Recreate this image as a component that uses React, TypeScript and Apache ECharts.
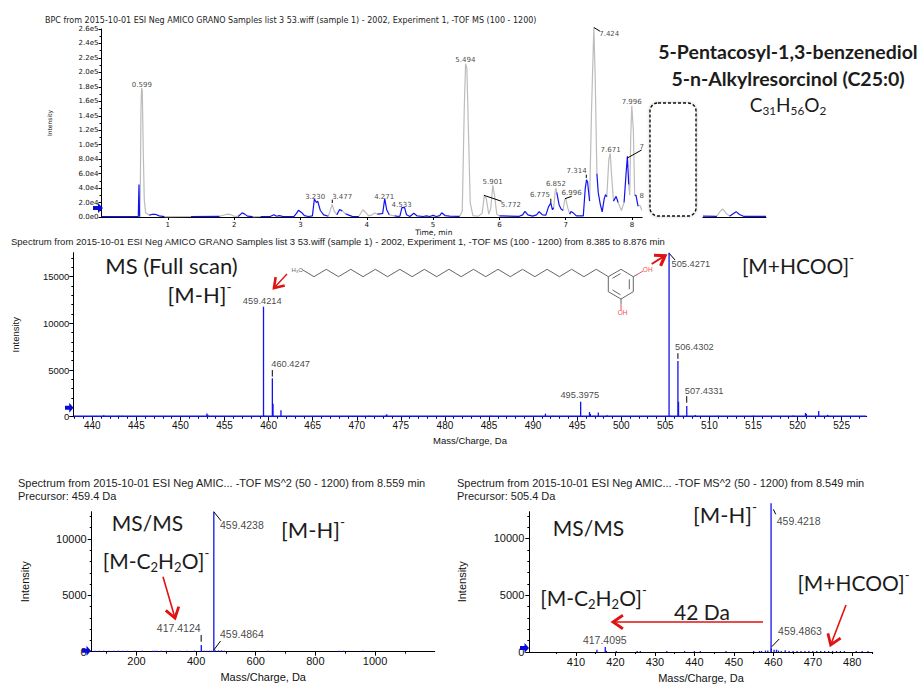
import React, { useEffect, useRef } from "react";
import * as echarts from "echarts";

// ---------- Chromatogram (BPC) ----------
const chromXTicks = [1, 2, 3, 4, 5, 6, 7, 8];
const chromYTicks = [0, 2e4, 4e4, 6e4, 8e4, 1e5, 1.2e5, 1.4e5, 1.6e5, 1.8e5, 2e5, 2.2e5, 2.4e5, 2.6e5];
const chromYMinor = [1e4, 3e4, 5e4, 7e4, 9e4, 1.1e5, 1.3e5, 1.5e5, 1.7e5, 1.9e5, 2.1e5, 2.3e5, 2.5e5];
const chromGrey: any[] = [
  [0.575, 500], [0.585, 30000], [0.595, 150000], [0.605, 178000], [0.615, 175000], [0.63, 90000], [0.645, 24000], [0.665, 6000], [0.72, 2500], [null, null],
  [0.95, 600], [1.35, 700], [null, null],
  [1.78, 800], [1.85, 2800], [1.9, 4000], [1.95, 3200], [2.0, 1200], [2.06, 800], [null, null],
  [2.28, 600], [2.4, 700], [null, null],
  [3.42, 1000], [3.46, 12000], [3.477, 17500], [3.51, 8000], [3.55, 3000], [null, null],
  [3.63, 8500], [3.68, 4500], [null, null],
  [3.88, 700], [3.94, 10000], [3.98, 6500], [4.03, 1500], [4.08, 3000], [4.12, 5500], [4.16, 4000], [null, null],
  [4.34, 3000], [4.42, 1500], [null, null],
  [5.4, 1000], [5.44, 8000], [5.47, 150000], [5.49, 212000], [5.51, 205000], [5.53, 130000], [5.56, 20000], [5.6, 2000], [5.68, 1000], [5.74, 5000], [5.772, 29500], [5.8, 26000], [5.84, 4000], [5.87, 12000], [5.9, 44000], [5.93, 28000], [5.96, 4000], [6.0, 1500], [null, null],
  [6.82, 13000], [6.84, 35000], [6.852, 40000], [6.865, 34000], [null, null],
  [6.96, 9000], [6.985, 24000], [7.0, 25400], [7.03, 13000], [7.06, 4000], [null, null],
  [7.36, 22000], [7.39, 150000], [7.424, 262000], [7.445, 190000], [7.47, 60000], [null, null],
  [7.62, 28000], [7.65, 80000], [7.671, 88000], [7.69, 60000], [7.72, 22000], [null, null],
  [7.79, 20000], [7.84, 9000], [7.88, 20000], [null, null],
  [7.95, 45000], [7.965, 30000], [7.98, 110000], [7.996, 154000], [8.02, 120000], [8.04, 30000], [null, null],
  [8.09, 15000], [8.12, 16000], [8.15, 9000], [null, null],
  [9.28, 1000], [9.33, 8000], [9.37, 11000], [9.42, 5000], [9.47, 1200],
];
const chromBlue: any[] = [
  [0, 700], [0.3, 600], [0.555, 800], [0.565, 45000], [0.575, 500], [null, null],
  [0.72, 2500], [0.76, 3500], [0.82, 3500], [0.87, 1500], [0.95, 600], [null, null],
  [1.35, 700], [1.78, 800], [null, null],
  [2.06, 800], [2.09, 3000], [2.12, 5800], [2.16, 4000], [2.2, 1200], [2.28, 600], [null, null],
  [2.4, 700], [2.55, 1000], [2.6, 3200], [2.64, 1000], [2.68, 1800], [2.73, 800], [2.9, 600], [2.94, 5000], [2.97, 9300], [3.02, 6000], [3.06, 1800], [3.12, 700], [3.18, 1500], [3.21, 24900], [3.24, 20000], [3.26, 22000], [3.3, 9000], [3.35, 3000], [3.42, 1000], [null, null],
  [3.55, 3000], [3.59, 10500], [3.63, 8500], [null, null],
  [3.68, 4500], [3.72, 3000], [3.78, 800], [3.88, 700], [null, null],
  [4.16, 4000], [4.2, 4200], [4.24, 5000], [4.271, 25500], [4.3, 10000], [4.34, 3000], [null, null],
  [4.42, 1500], [4.46, 1000], [4.5, 1200], [4.53, 13000], [4.57, 13000], [4.6, 3000], [4.65, 800], [4.71, 5200], [4.76, 1500], [4.85, 700], [4.9, 1500], [4.95, 700], [5.0, 2200], [5.05, 700], [5.1, 2000], [5.13, 5800], [5.18, 2000], [5.25, 1200], [5.4, 1000], [null, null],
  [6.0, 1500], [6.3, 1000], [6.35, 3000], [6.385, 7800], [6.43, 3000], [6.5, 1200], [6.56, 3000], [6.6, 7300], [6.65, 3000], [6.7, 2500], [6.74, 14000], [6.775, 19400], [6.8, 10000], [6.82, 13000], [null, null],
  [6.865, 34000], [6.9, 17000], [6.93, 11000], [6.96, 9000], [null, null],
  [7.06, 4000], [7.08, 7500], [7.11, 6000], [7.16, 1500], [7.265, 1500], [7.295, 40000], [7.314, 51600], [7.33, 48000], [7.36, 22000], [null, null],
  [7.47, 60000], [7.49, 34000], [7.52, 18000], [7.55, 7000], [7.58, 25000], [7.6, 31000], [7.62, 28000], [null, null],
  [7.72, 22000], [7.76, 28500], [7.79, 20000], [null, null],
  [7.88, 20000], [7.91, 60000], [7.93, 84000], [7.95, 45000], [null, null],
  [8.04, 30000], [8.06, 30000], [8.09, 15000], [null, null],
  [9.07, 1200], [9.28, 1000], [null, null],
  [9.47, 1200], [9.53, 5000], [9.57, 7400], [9.62, 3500], [9.68, 1000], [10.02, 1000],
];
const chromLabels: any[] = [
  [0.608, 182600, "0.599"], [3.222, 28100, "3.230"], [3.629, 28100, "3.477"], [4.262, 28100, "4.271"], [4.525, 17000, "4.533"],
  [5.487, 216700, "5.494"], [5.897, 48800, "5.901"], [6.173, 17000, "5.772"], [6.611, 30000, "6.775"], [6.852, 45200, "6.852"],
  [7.089, 33600, "6.996"], [7.164, 63200, "7.314"], [7.656, 253500, "7.424"], [7.677, 93100, "7.671"], [7.994, 159000, "7.996"],
  [8.145, 96800, "7"], [8.145, 29000, "8"],
];
const chromLeaders: any[] = [
  [3.48, 19400], [3.48, 24000], [null, null],
  [7.31, 54000], [7.31, 58500], [null, null],
  [6.775, 19400], [6.775, 25300], [null, null],
  [5.766, 30000], [6.033, 21700], [null, null],
  [6.988, 25300], [7.09, 28600], [null, null],
  [7.425, 262000], [7.516, 257000], [null, null],
  [7.93, 81600], [8.145, 92700],
];

// ---------- MS full scan ----------
const ms1XTicks = [440, 445, 450, 455, 460, 465, 470, 475, 480, 485, 490, 495, 500, 505, 510, 515, 520, 525];
const ms1XMinor = Array.from({ length: 90 }, (_, i) => 438 + i);
const ms1YTicks = [0, 5000, 10000, 15000];
const ms1YMinor = [1000, 2000, 3000, 4000, 6000, 7000, 8000, 9000, 11000, 12000, 13000, 14000, 16000, 17000];
const ms1Peaks: number[][] = [
  [441.3, 150], [443, 100], [443.4, 100], [447, 80], [449.4, 80], [453, 350], [453.1, 200], [459.4214, 11790], [459.6, 100],
  [460.4247, 4115], [460.5, 1400], [461.4, 700], [462.4, 100], [471.4, 100], [473.3, 120], [473.4, 250], [485.2, 100], [485.4, 80],
  [491.4, 320], [492.3, 100], [495.3975, 1607], [496.4, 500], [496.5, 300], [496.9, 100], [497.4, 450], [498.4, 150], [503.9, 80],
  [505.4271, 17570], [505.6, 100], [506.4302, 5960], [506.5, 1600], [507.4331, 1143], [508.4, 180], [511, 100], [515, 120], [519.5, 120],
  [520.9, 400], [521, 300], [522.4, 620], [523.4, 200], [523.5, 120],
];
const ms1Baseline = [[437.9, 60], [527.8, 60]];
const ms1Labels: any[] = [
  [459.28, 12390, "459.4214"], [462.5, 5640, "460.4247"], [507.9, 16320, "505.4271"],
  [508.3, 7500, "506.4302"], [509.4, 2750, "507.4331"], [495.3, 2290, "495.3975"],
];
const ms1Leaders: any[] = [
  [460.42, 4300], [460.42, 5000], [null, null],
  [505.45, 17500], [506.1, 16800], [null, null],
  [506.43, 6200], [506.43, 6800], [null, null],
  [507.43, 1500], [507.43, 2200],
];

// ---------- MS/MS of 459.4 ----------
const ms2aXTicks = [200, 400, 600, 800, 1000];
const ms2aXMinor = [100, 300, 500, 700, 900, 1100];
const msmsYTicks = [0, 5000, 10000];
const msmsYMinor = [1000, 2000, 3000, 4000, 6000, 7000, 8000, 9000, 11000, 12000];
const ms2aPeaks: number[][] = [
  [62, 90], [75, 90], [90, 90], [108, 90], [125, 90], [140, 90], [155, 90], [170, 90], [195, 90], [220, 90], [255, 90], [262, 90], [270, 90],
  [283, 90], [300, 90], [315, 90], [345, 90], [370, 90], [395, 90], [417.4124, 590], [420, 90], [428, 90], [436, 90], [445, 90], [452, 90],
  [459.4238, 12420], [459.4864, 110], [465, 120], [475, 120], [485, 120], [495, 90], [640, 90], [880, 90], [895, 90], [960, 90],
];
const ms2aLabels: any[] = [[553.5, 11260, "459.4238"], [341.8, 2130, "417.4124"], [553.5, 1600, "459.4864"]];
const ms2aLeaders: any[] = [
  [459.4, 12420], [484, 11600], [null, null],
  [417, 890], [417, 1480], [null, null],
  [459.5, 150], [482, 950],
];

// ---------- MS/MS of 505.4 ----------
const ms2bXTicks = [410, 420, 430, 440, 450, 460, 470, 480];
const ms2bXMinor = [405, 415, 425, 435, 445, 455, 465, 475, 485];
const ms2bPeaks: number[][] = [
  [415.3, 200], [417.4095, 450], [417.7, 100], [420.2, 80], [425.5, 80], [426.3, 80], [433, 80], [437.5, 80], [440, 80], [441.5, 80], [448, 80],
  [455, 90], [456.5, 90], [457, 90], [458, 120], [458.6, 140], [459.4218, 13110], [459.4863, 300], [460.2, 200], [460.8, 200], [461.3, 120], [462, 90],
  [463, 160], [464, 90], [465, 90], [466, 90], [467, 90], [468, 90], [469, 90], [470, 90], [471, 90], [472, 90], [473, 90], [474, 90], [475, 90],
  [476, 90], [477, 90], [478, 90], [481, 80], [482.5, 80], [484, 80],
];
const ms2bLabels: any[] = [[466.4, 11570, "459.4218"], [417.3, 1060, "417.4095"], [466.75, 1880, "459.4863"]];
const ms2bLeaders: any[] = [
  [460.0, 12570], [460.6, 12130], [null, null],
  [459.6, 470], [461.5, 1150],
];

const BLUE = "#1212f0";
const GREY = "#bcbcbc";
const RED = "#e01212";
const ANNOT = "Lato, 'Noto Sans', sans-serif";
const ARIAL = "'Liberation Sans', Arial, sans-serif";
const DEJAVU = "'DejaVu Sans', sans-serif";

function axisPair(kind: "x" | "y", gridIndex: number, min: number, max: number, majors: number[], minors: number[], o: any) {
  const base = {
    type: "value",
    gridIndex,
    position: kind === "x" ? "bottom" : "left",
    min,
    max,
    splitLine: { show: false },
  };
  return [
    {
      ...base,
      name: o.name,
      nameLocation: "middle",
      nameGap: o.nameGap,
      nameTextStyle: { fontFamily: o.font, fontSize: o.nameSize, color: "#111" },
      axisLine: { onZero: false, lineStyle: { color: "#000", width: 1 } },
      axisTick: { customValues: majors, length: o.major, lineStyle: { color: "#000" } },
      axisLabel: {
        customValues: majors,
        fontFamily: o.font,
        fontSize: o.size,
        color: "#111",
        margin: o.margin,
        formatter: o.formatter || ((v: number) => String(v)),
      },
    },
    {
      ...base,
      axisLine: { show: false, onZero: false },
      axisTick: { customValues: minors, length: o.minor, lineStyle: { color: "#000" } },
      axisLabel: { show: false },
    },
  ];
}

function labelSeries(p: number, data: any[], font: string, size: number) {
  return {
    type: "scatter",
    xAxisIndex: p * 2,
    yAxisIndex: p * 2,
    data,
    symbolSize: 1,
    itemStyle: { color: "transparent" },
    silent: true,
    z: 6,
    clip: false,
    label: {
      show: true,
      position: "inside",
      fontFamily: font,
      fontSize: size,
      color: "#111",
      textBorderWidth: 0,
      textBorderColor: "transparent",
      formatter: (v: any) => v.data[2],
    },
  };
}

function leaderSeries(p: number, data: any[]) {
  return {
    type: "line",
    xAxisIndex: p * 2,
    yAxisIndex: p * 2,
    data,
    symbol: "none",
    clip: false,
    silent: true,
    z: 5,
    lineStyle: { color: "#000", width: 1 },
  };
}

function barSeries(p: number, data: number[][]) {
  return {
    type: "bar",
    xAxisIndex: p * 2,
    yAxisIndex: p * 2,
    data,
    barWidth: 1.3,
    clip: false,
    silent: true,
    itemStyle: { color: BLUE },
  };
}

function traceSeries(data: any[], color: string, z: number) {
  return {
    type: "line",
    xAxisIndex: 0,
    yAxisIndex: 0,
    data,
    symbol: "none",
    clip: false,
    silent: true,
    z,
    lineStyle: { color, width: 1.2 },
  };
}

function txt(text: string, x: number, y: number, font: string, size: number, extra: any = {}) {
  return {
    type: "text",
    x,
    y,
    z: 60,
    silent: true,
    style: {
      text,
      fontFamily: font,
      fontSize: size,
      fill: extra.fill || "#1c1c1c",
      align: extra.align || "left",
      verticalAlign: "middle",
      fontWeight: extra.weight || "normal",
    },
  };
}

function chem(parts: [string, "b" | "s" | "u"][], x: number, y: number, size: number) {
  return {
    type: "text",
    x,
    y,
    z: 60,
    silent: true,
    style: {
      text: parts.map(([t, k]) => `{${k}|${t}}`).join(""),
      align: "center",
      verticalAlign: "middle",
      fill: "#1c1c1c",
      rich: {
        b: { fontFamily: ANNOT, fontSize: size, fill: "#1c1c1c", lineHeight: size * 1.3, verticalAlign: "middle" },
        s: { fontFamily: ANNOT, fontSize: size * 0.62, fill: "#1c1c1c", lineHeight: size * 1.3, verticalAlign: "bottom" },
        u: { fontFamily: ANNOT, fontSize: size * 0.62, fill: "#1c1c1c", lineHeight: size * 1.3, verticalAlign: "top" },
      },
    },
  };
}

function arrow(x1: number, y1: number, x2: number, y2: number, w: number, head: number) {
  const a = Math.atan2(y2 - y1, x2 - x1);
  const p = (d: number) => [x2 - head * Math.cos(a + d), y2 - head * Math.sin(a + d)];
  return [
    { type: "line", z: 70, silent: true, shape: { x1, y1, x2, y2 }, style: { stroke: RED, lineWidth: w } },
    {
      type: "polyline",
      z: 70,
      silent: true,
      shape: { points: [p(0.6), [x2, y2], p(-0.6)] },
      style: { stroke: RED, fill: "none", lineWidth: w + 1.2 },
    },
  ];
}

function blueMarker(x: number, y: number, w: number) {
  return {
    type: "polygon",
    z: 65,
    silent: true,
    shape: {
      points: [
        [x, y - 2],
        [x + w * 0.5, y - 2],
        [x + w * 0.5, y - 5],
        [x + w, y],
        [x + w * 0.5, y + 5],
        [x + w * 0.5, y + 2],
        [x, y + 2],
      ],
    },
    style: { fill: "#0a0ad8" },
  };
}

function molecule() {
  const chain: number[][] = [];
  for (let i = 0; i <= 25; i++) chain.push([301.7 + i * 12.27, i % 2 === 0 ? 269.3 : 276.7]);
  const ring = [[608.3, 276.7], [621, 269.3], [633.3, 276.7], [633.3, 291.7], [621, 299], [608.3, 291.7], [608.3, 276.7]];
  const bond = { stroke: "#666", lineWidth: 1, fill: "none" };
  const l = (x1: number, y1: number, x2: number, y2: number, stroke = "#666") => ({
    type: "line",
    z: 55,
    silent: true,
    shape: { x1, y1, x2, y2 },
    style: { stroke, lineWidth: 1 },
  });
  return [
    { type: "polyline", z: 55, silent: true, shape: { points: chain }, style: bond },
    { type: "polyline", z: 55, silent: true, shape: { points: ring }, style: bond },
    l(629.3, 279.3, 629.3, 289.3),
    l(612.5, 290, 620.5, 294.8),
    l(612.5, 278.3, 620.5, 273.6),
    l(633.3, 276.7, 638, 274),
    l(638, 274, 643, 271, "#f05050"),
    l(621, 299, 621, 304.5),
    l(621, 304.5, 621, 310, "#f05050"),
    txt("OH", 647.7, 269.5, ARIAL, 6.5, { align: "center", fill: "#f05050" }),
    txt("OH", 622.5, 312.7, ARIAL, 6.5, { align: "center", fill: "#f05050" }),
    txt("H₃C", 297, 269.5, ARIAL, 6, { align: "center", fill: "#666" }),
  ];
}

function buildOption() {
  const expFmt = (v: number) => v.toExponential(1).replace("e+", "e");
  const chromX = axisPair("x", 0, 0, 10.02, chromXTicks, chromXTicks, {
    font: DEJAVU, size: 7, major: 3, minor: 3, margin: 4, name: "Time, min", nameGap: 9, nameSize: 7.5,
  });
  const chromY = axisPair("y", 0, 0, 2.6e5, chromYTicks, chromYMinor, {
    font: DEJAVU, size: 7, major: 3, minor: 2, margin: 3, formatter: expFmt, name: "Intensity", nameGap: 49.5, nameSize: 6,
  });
  const ms1X = axisPair("x", 1, 437.845, 527.845, ms1XTicks, ms1XMinor, {
    font: ARIAL, size: 10, major: 4, minor: 2, margin: 4, name: "Mass/Charge, Da", nameGap: 18.5, nameSize: 9.5,
  });
  const ms1Y = axisPair("y", 1, 0, 17577, ms1YTicks, ms1YMinor, {
    font: ARIAL, size: 9.5, major: 4, minor: 2, margin: 4, name: "Intensity", nameGap: 52.5, nameSize: 9.5,
  });
  const ms2aX = axisPair("x", 2, 50, 1200, ms2aXTicks, ms2aXMinor, {
    font: ARIAL, size: 11, major: 4, minor: 2, margin: 4, name: "Mass/Charge, Da", nameGap: 20, nameSize: 11,
  });
  const ms2aY = axisPair("y", 2, 0, 12420, msmsYTicks, msmsYMinor, {
    font: ARIAL, size: 11, major: 4, minor: 2, margin: 5, name: "Intensity", nameGap: 61, nameSize: 11,
  });
  const ms2bX = axisPair("x", 3, 398.17, 485.17, ms2bXTicks, ms2bXMinor, {
    font: ARIAL, size: 11, major: 4, minor: 2, margin: 4, name: "Mass/Charge, Da", nameGap: 20, nameSize: 11,
  });
  const ms2bY = axisPair("y", 3, 0, 12361, msmsYTicks, msmsYMinor, {
    font: ARIAL, size: 11, major: 4, minor: 2, margin: 5, name: "Intensity", nameGap: 62, nameSize: 11,
  });

  const graphics: any[] = [
    // panel titles
    txt("BPC from 2015-10-01 ESI Neg AMICO GRANO Samples list 3 53.wiff (sample 1) - 2002, Experiment 1, -TOF MS (100 - 1200)", 45, 20, DEJAVU, 8),
    txt("Spectrum from 2015-10-01 ESI Neg AMICO GRANO Samples list 3 53.wiff (sample 1) - 2002, Experiment 1, -TOF MS (100 - 1200) from 8.385 to 8.876 min", 11, 241.5, ARIAL, 9.5),
    txt("Spectrum from 2015-10-01 ESI Neg AMIC... -TOF MS^2 (50 - 1200) from 8.559 min", 18, 483, ARIAL, 11),
    txt("Precursor: 459.4 Da", 18, 496, ARIAL, 11),
    txt("Spectrum from 2015-10-01 ESI Neg AMIC... -TOF MS^2 (50 - 1200) from 8.549 min", 457, 483, ARIAL, 11),
    txt("Precursor: 505.4 Da", 457, 496, ARIAL, 11),
    // white break of the time axis, dashed box over it
    { type: "rect", z: 50, silent: true, shape: { x: 642.5, y: 205, width: 60, height: 30 }, style: { fill: "#fff" } },
    {
      type: "rect",
      z: 51,
      silent: true,
      shape: { x: 650, y: 103, width: 46, height: 113, r: 8 },
      style: { fill: "#fff", stroke: "#111", lineWidth: 1.4, lineDash: [3, 2], shadowBlur: 3, shadowColor: "rgba(0,0,0,0.25)" },
    },
    // compound name
    txt("5-Pentacosyl-1,3-benzenediol", 788, 51, ANNOT, 19.5, { align: "center", weight: "bold" }),
    txt("5-n-Alkylresorcinol (C25:0)", 788, 78, ANNOT, 19.5, { align: "center", weight: "bold" }),
    chem([["C", "b"], ["31", "s"], ["H", "b"], ["56", "s"], ["O", "b"], ["2", "s"]], 788, 104, 19),
    // annotations
    txt("MS (Full scan)", 171.5, 265, ANNOT, 22, { align: "center" }),
    chem([["[M-H]", "b"], ["-", "u"]], 199.5, 294, 22),
    chem([["[M+HCOO]", "b"], ["-", "u"]], 798, 265, 21),
    txt("MS/MS", 147.5, 522, ANNOT, 21, { align: "center" }),
    chem([["[M-H]", "b"], ["-", "u"]], 313, 529, 22),
    chem([["[M-C", "b"], ["2", "s"], ["H", "b"], ["2", "s"], ["O]", "b"], ["-", "u"]], 156, 560, 21),
    chem([["[M-H]", "b"], ["-", "u"]], 725, 514, 22),
    txt("MS/MS", 588.5, 527, ANNOT, 21, { align: "center" }),
    chem([["[M-C", "b"], ["2", "s"], ["H", "b"], ["2", "s"], ["O]", "b"], ["-", "u"]], 593.5, 597, 21),
    txt("42 Da", 702, 611, ANNOT, 21, { align: "center" }),
    chem([["[M+HCOO]", "b"], ["-", "u"]], 853.5, 582, 21),
    // red arrows
    ...arrow(287, 274, 274, 288, 1.4, 11),
    ...arrow(651.7, 264, 665, 255.7, 2, 11),
    ...arrow(163, 576.7, 175, 618, 1.6, 12),
    ...arrow(763, 622, 613, 622, 1.6, 12),
    ...arrow(846, 605, 830.7, 645, 1.6, 12),
    // molecule
    ...molecule(),
    // blue position markers
    blueMarker(93, 208, 10),
    blueMarker(65, 407.7, 8.5),
    blueMarker(82, 650.7, 9),
    blueMarker(520, 648, 9),
  ];

  return {
    animation: false,
    backgroundColor: "#fff",
    grid: [
      { left: 101.5, top: 29, width: 664.5, height: 188, outerBoundsMode: "none" },
      { left: 73.3, top: 252.7, width: 793.4, height: 164, outerBoundsMode: "none" },
      { left: 91.7, top: 511.7, width: 343, height: 140, outerBoundsMode: "none" },
      { left: 529.3, top: 511.7, width: 343.4, height: 140.3, outerBoundsMode: "none" },
    ],
    xAxis: [...chromX, ...ms1X, ...ms2aX, ...ms2bX],
    yAxis: [...chromY, ...ms1Y, ...ms2aY, ...ms2bY],
    series: [
      traceSeries(chromGrey, GREY, 3),
      traceSeries(chromBlue, BLUE, 4),
      leaderSeries(0, chromLeaders),
      labelSeries(0, chromLabels, DEJAVU, 7),
      {
        type: "line",
        xAxisIndex: 2,
        yAxisIndex: 2,
        data: ms1Baseline,
        symbol: "none",
        silent: true,
        lineStyle: { color: BLUE, width: 1.5 },
      },
      barSeries(1, ms1Peaks),
      leaderSeries(1, ms1Leaders),
      labelSeries(1, ms1Labels, ARIAL, 9.3),
      barSeries(2, ms2aPeaks),
      leaderSeries(2, ms2aLeaders),
      labelSeries(2, ms2aLabels, ARIAL, 10.5),
      barSeries(3, ms2bPeaks),
      leaderSeries(3, ms2bLeaders),
      labelSeries(3, ms2bLabels, ARIAL, 10.5),
    ],
    graphic: { elements: graphics },
  };
}

export default function App() {
  const ref = useRef<HTMLDivElement>(null);
  useEffect(() => {
    const chart = echarts.init(ref.current!, undefined, { renderer: "svg" });
    chart.setOption(buildOption() as any);
    return () => chart.dispose();
  }, []);
  return <div ref={ref} style={{ position: "fixed", left: 0, top: 0, width: 920, height: 684, background: "#fff" }} />;
}
